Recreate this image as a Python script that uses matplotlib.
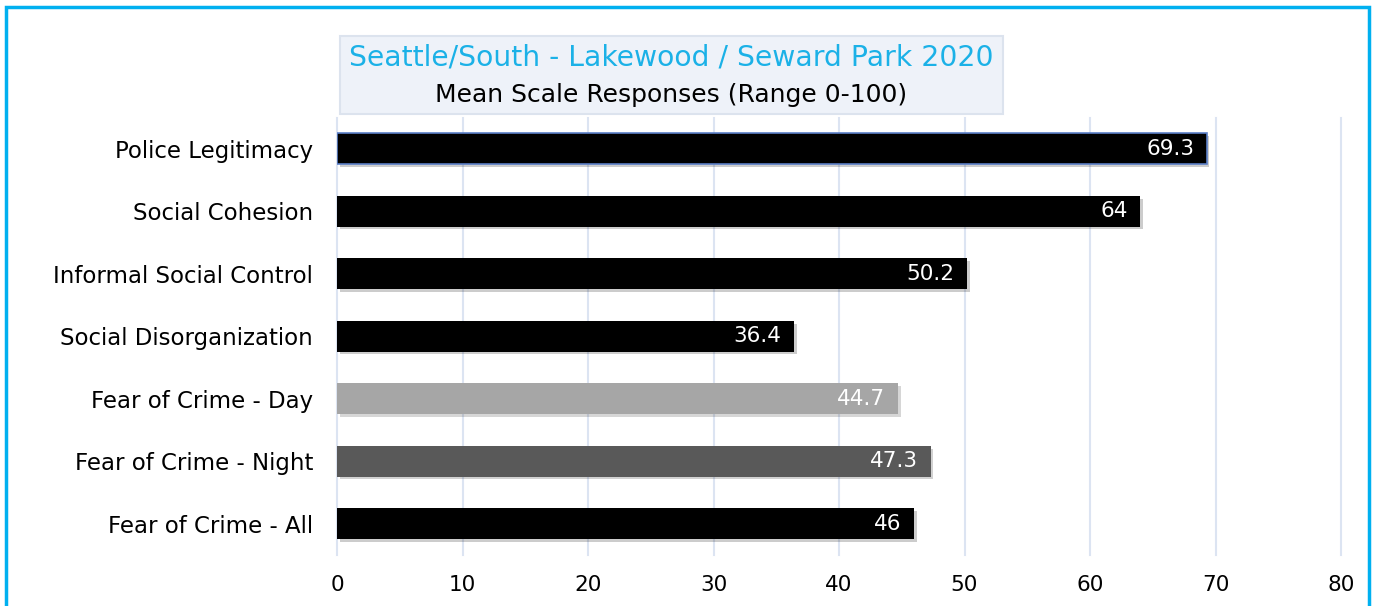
import matplotlib
matplotlib.use("Agg")
import matplotlib.pyplot as plt
from matplotlib.patches import Rectangle
import matplotlib.patheffects as pe

categories = ["Police Legitimacy", "Social Cohesion", "Informal Social Control",
              "Social Disorganization", "Fear of Crime - Day", "Fear of Crime - Night",
              "Fear of Crime - All"]
values = [69.3, 64, 50.2, 36.4, 44.7, 47.3, 46]
value_labels = ["69.3", "64", "50.2", "36.4", "44.7", "47.3", "46"]
bar_colors = ["#000000", "#000000", "#000000", "#000000", "#A6A6A6", "#595959", "#000000"]
xticks = [0, 10, 20, 30, 40, 50, 60, 70, 80]
title = "Seattle/South - Lakewood / Seward Park 2020"
subtitle = "Mean Scale Responses (Range 0-100)"

plt.rcParams['font.family'] = ['DejaVu Sans']

W, H = 1380, 606
fig = plt.figure(figsize=(W / 100, H / 100), dpi=100)
ax = fig.add_axes([337 / W, (H - 555) / H, (1341 - 337) / W, (555 - 117.5) / H])

n = len(categories)
ypos = list(range(n))
bars = ax.barh(ypos, values, height=0.49, color=bar_colors, zorder=3)
for i, b in enumerate(bars):
    b.set_path_effects([pe.SimplePatchShadow(offset=(2, -2), alpha=0.2), pe.Normal()])
    if i == 0:
        b.set_edgecolor("#5B7FC7")
        b.set_linewidth(1.2)
    ax.text(values[i] - 1.0, i, value_labels[i], color="white", ha="right", va="center",
            fontsize=15.5, zorder=4)

ax.set_xlim(0, 80)
ax.set_ylim(n - 0.5, -0.5)
ax.set_xticks(xticks)
ax.set_xticklabels([str(t) for t in xticks], fontsize=15.5, color="#000000")
ax.set_yticks(ypos)
ax.set_yticklabels(categories, fontsize=16.5, color="#000000")
ax.tick_params(axis='both', length=0)
ax.tick_params(axis='x', pad=14.5)
ax.tick_params(axis='y', pad=17.3)
for s in ax.spines.values():
    s.set_visible(False)
ax.grid(axis='x', color="#DCE4F2", linewidth=1.5, zorder=0)
for gl in ax.get_xgridlines():
    gl.set_clip_on(False)
ax.set_axisbelow(True)

# title box
fig.patches.append(Rectangle((340 / W, (H - 114) / H), (1003 - 340) / W, 78 / H,
                             transform=fig.transFigure, facecolor="#EEF2F9",
                             edgecolor="#DCE3EE", linewidth=1.5, zorder=5))
fig.text(671 / W, (H - 58) / H, title, ha="center", va="center", fontsize=20.3,
         color="#1BB1E7", zorder=6)
fig.text(671 / W, (H - 95) / H, subtitle, ha="center", va="center", fontsize=18,
         color="#000000", zorder=6)

# outer blue frame
fig.patches.append(Rectangle((6 / W, -0.05), (1369 - 6) / W, 1.05 - 7 / H,
                             transform=fig.transFigure, facecolor="none",
                             edgecolor="#00B0F0", linewidth=2.5, zorder=10))

fig.savefig("out.png", dpi=100)
